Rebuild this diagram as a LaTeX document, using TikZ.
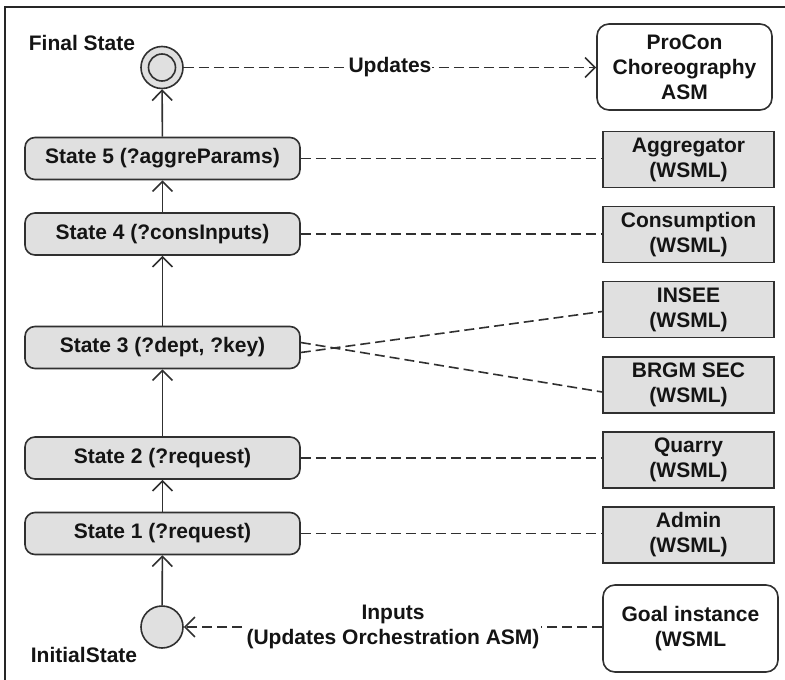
\documentclass[tikz,border=0pt]{standalone}
\usepackage{fontspec}
\setmainfont{Liberation Sans}
\usetikzlibrary{arrows.meta}
\definecolor{boxfill}{HTML}{E0E0E0}
\definecolor{linec}{HTML}{303030}
\definecolor{textc}{HTML}{141414}
\begin{document}
\begin{tikzpicture}[x=1pt,y=-1pt,
  font=\fontsize{21}{25}\selectfont\bfseries, text=textc,
  statebox/.style={draw=linec, line width=1.6pt, fill=boxfill, rounded corners=10pt,
    minimum width=275pt, minimum height=42pt, inner sep=0pt},
  wsbox/.style={draw=linec, line width=1.6pt, fill=boxfill,
    minimum width=171pt, minimum height=56pt, inner sep=0pt, align=center},
  whitebox/.style={draw=linec, line width=1.6pt, fill=white, rounded corners=12pt,
    minimum width=175pt, minimum height=86pt, inner sep=0pt, align=center},
  pseudo/.style={draw=linec, line width=1.6pt, fill=boxfill, circle,
    minimum size=42pt, inner sep=0pt},
  flow/.style={draw=linec, line width=1.6pt, -{Straight Barb[length=10pt,width=20pt]}},
  link/.style={draw=linec, line width=1.6pt, dash pattern=on 10pt off 5pt},
  linkarrow/.style={link, -{Straight Barb[length=10pt,width=20pt]}},
  lbl/.style={fill=white, inner sep=1pt, align=center}
]
\useasboundingbox (0,0) rectangle (785,680);
\fill[white] (0,0) rectangle (785,680);
\draw[line width=1.3pt, black!85] (5,680) -- (5,7) -- (785,7);

% pseudo states
\node[pseudo] (final) at (162,67.5) {};
\draw[linec, line width=1.6pt] (final.center) circle (13.5pt);
\node (finallbl) at (82,43) {Final State};
\node[pseudo] (init) at (162,627) {};
\node (initlbl) at (84,655) {InitialState};

% states
\node[statebox] (s5) at (162.5,158.5) {State 5 (?aggreParams)};
\node[statebox] (s4) at (162.5,234) {State 4 (?consInputs)};
\node[statebox] (s3) at (162.5,347.5) {State 3 (?dept, ?key)};
\node[statebox] (s2) at (162.5,458) {State 2 (?request)};
\node[statebox] (s1) at (162.5,533.5) {State 1 (?request)};

% right boxes
\node[whitebox] (procon) at (684.5,67) {ProCon\\Choreography\\ASM};
\node[wsbox] (agg) at (688.5,159.5) {Aggregator\\(WSML)};
\node[wsbox] (cons) at (688.5,234.5) {Consumption\\(WSML)};
\node[wsbox] (insee) at (688.5,309.5) {INSEE\\(WSML)};
\node[wsbox] (brgm) at (688.5,385) {BRGM SEC\\(WSML)};
\node[wsbox] (quarry) at (688.5,460) {Quarry\\(WSML)};
\node[wsbox] (admin) at (688.5,535) {Admin\\(WSML)};
\node[whitebox, minimum height=87pt] (goal) at (690.5,628.5) {Goal instance\\(WSML};

% control flow
\draw[flow] (init) -- (s1);
\draw[flow] (s1) -- (s2);
\draw[flow] (s2) -- (s3);
\draw[flow] (s3) -- (s4);
\draw[flow] (s4) -- (s5);
\draw[flow] (s5) -- (final);

% links
\draw[link] (s5) -- (s5 -| agg.west);
\draw[link] (s4) -- (s4 -| cons.west);
\draw[link] ([yshift=-5pt]s3.east) -- ([yshift=-2pt]insee.west);
\draw[link] ([yshift=5pt]s3.east) -- ([yshift=-7pt]brgm.west);
\draw[link] (s2) -- (s2 -| quarry.west);
\draw[link] (s1) -- (s1 -| admin.west);
\draw[linkarrow] (final) -- node[lbl] {Updates} (final -| procon.west);
\draw[linkarrow] (goal.west |- init) -- node[lbl, inner sep=2pt] {Inputs\\(Updates Orchestration ASM)} (init);
\end{tikzpicture}
\end{document}
